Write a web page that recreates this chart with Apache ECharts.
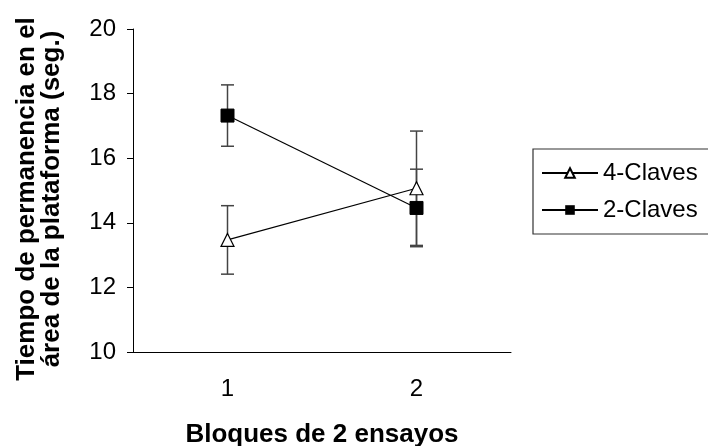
<!DOCTYPE html>
<html>
<head>
<meta charset="utf-8">
<script src="https://cdn.jsdelivr.net/npm/echarts@6/dist/echarts.min.js"></script>
<style>
  html, body { margin: 0; padding: 0; background: #fff; }
  #chart { width: 708px; height: 446px; }
</style>
</head>
<body>
<div id="chart"></div>
<script>
// data
const bloques = ['1', '2']
const claves4 = [13.47, 15.07]
const claves4Err = [1.06, 1.77]
const claves2 = [17.32, 14.46]
const claves2Err = [0.95, 1.2]

const font = 'Liberation Sans, Arial, sans-serif'

function errorBars(means, errs) {
  return means.map((m, i) => [i, m - errs[i], m + errs[i]])
}

function renderErrorBar(params, api) {
  const x = api.value(0)
  const lo = api.coord([x, api.value(1)])
  const hi = api.coord([x, api.value(2)])
  const half = 6.5
  const style = { stroke: '#444', lineWidth: 1.5 }
  return {
    type: 'group',
    children: [
      { type: 'line', shape: { x1: lo[0], y1: lo[1], x2: hi[0], y2: hi[1] }, style },
      { type: 'line', shape: { x1: lo[0] - half, y1: lo[1], x2: lo[0] + half, y2: lo[1] }, style },
      { type: 'line', shape: { x1: hi[0] - half, y1: hi[1], x2: hi[0] + half, y2: hi[1] }, style },
    ],
  }
}

const chart = echarts.init(document.getElementById('chart'))
chart.setOption({
  animation: false,
  textStyle: { fontFamily: font },
  grid: { left: 133, right: 197, top: 29, bottom: 94, outerBoundsMode: 'none' },
  // y axis title, two lines, sits a bit below the axis middle in the original
  graphic: [
    {
      type: 'text',
      x: 39,
      y: 199,
      rotation: Math.PI / 2,
      style: {
        text: 'Tiempo de permanencia en el\nárea de la plataforma (seg.)',
        font: 'bold 26px ' + font,
        fill: '#000',
        align: 'center',
        verticalAlign: 'middle',
        lineHeight: 25,
      },
    },
  ],
  legend: {
    orient: 'vertical',
    left: 533,
    top: 149,
    data: ['4-Claves', '2-Claves'],
    borderColor: '#333',
    borderWidth: 1.2,
    padding: [12, 40, 12, 8],
    itemWidth: 56,
    itemHeight: 12,
    itemGap: 13,
    textStyle: { fontSize: 24, color: '#000', fontFamily: font },
  },
  xAxis: {
    type: 'category',
    data: bloques,
    boundaryGap: true,
    axisLine: { lineStyle: { color: '#000', width: 1 } },
    axisTick: { length: 7, lineStyle: { color: '#000' } },
    axisLabel: { fontSize: 24, color: '#000', margin: 25 },
    name: 'Bloques de 2 ensayos',
    nameLocation: 'middle',
    nameGap: 70,
    nameTextStyle: { fontSize: 26, fontWeight: 'bold', color: '#000' },
  },
  yAxis: {
    type: 'value',
    min: 10,
    max: 20,
    interval: 2,
    splitLine: { show: false },
    axisLine: { show: true, lineStyle: { color: '#000', width: 1 } },
    axisTick: { show: true, length: 6, lineStyle: { color: '#000' } },
    axisLabel: { fontSize: 24, color: '#000', margin: 17 },
  },
  series: [
    {
      type: 'custom',
      renderItem: renderErrorBar,
      data: errorBars(claves4, claves4Err),
      z: 1,
      silent: true,
    },
    {
      type: 'custom',
      renderItem: renderErrorBar,
      data: errorBars(claves2, claves2Err),
      z: 1,
      silent: true,
    },
    {
      name: '4-Claves',
      type: 'line',
      data: claves4,
      symbol: 'triangle',
      symbolSize: 13,
      itemStyle: { color: '#fff', borderColor: '#000', borderWidth: 1.2 },
      lineStyle: { color: '#000', width: 1.2 },
      z: 3,
    },
    {
      name: '2-Claves',
      type: 'line',
      data: claves2,
      symbol: 'rect',
      symbolSize: 13,
      itemStyle: { color: '#000', borderColor: '#000' },
      lineStyle: { color: '#000', width: 1.2 },
      z: 3,
    },
  ],
})
</script>
</body>
</html>
